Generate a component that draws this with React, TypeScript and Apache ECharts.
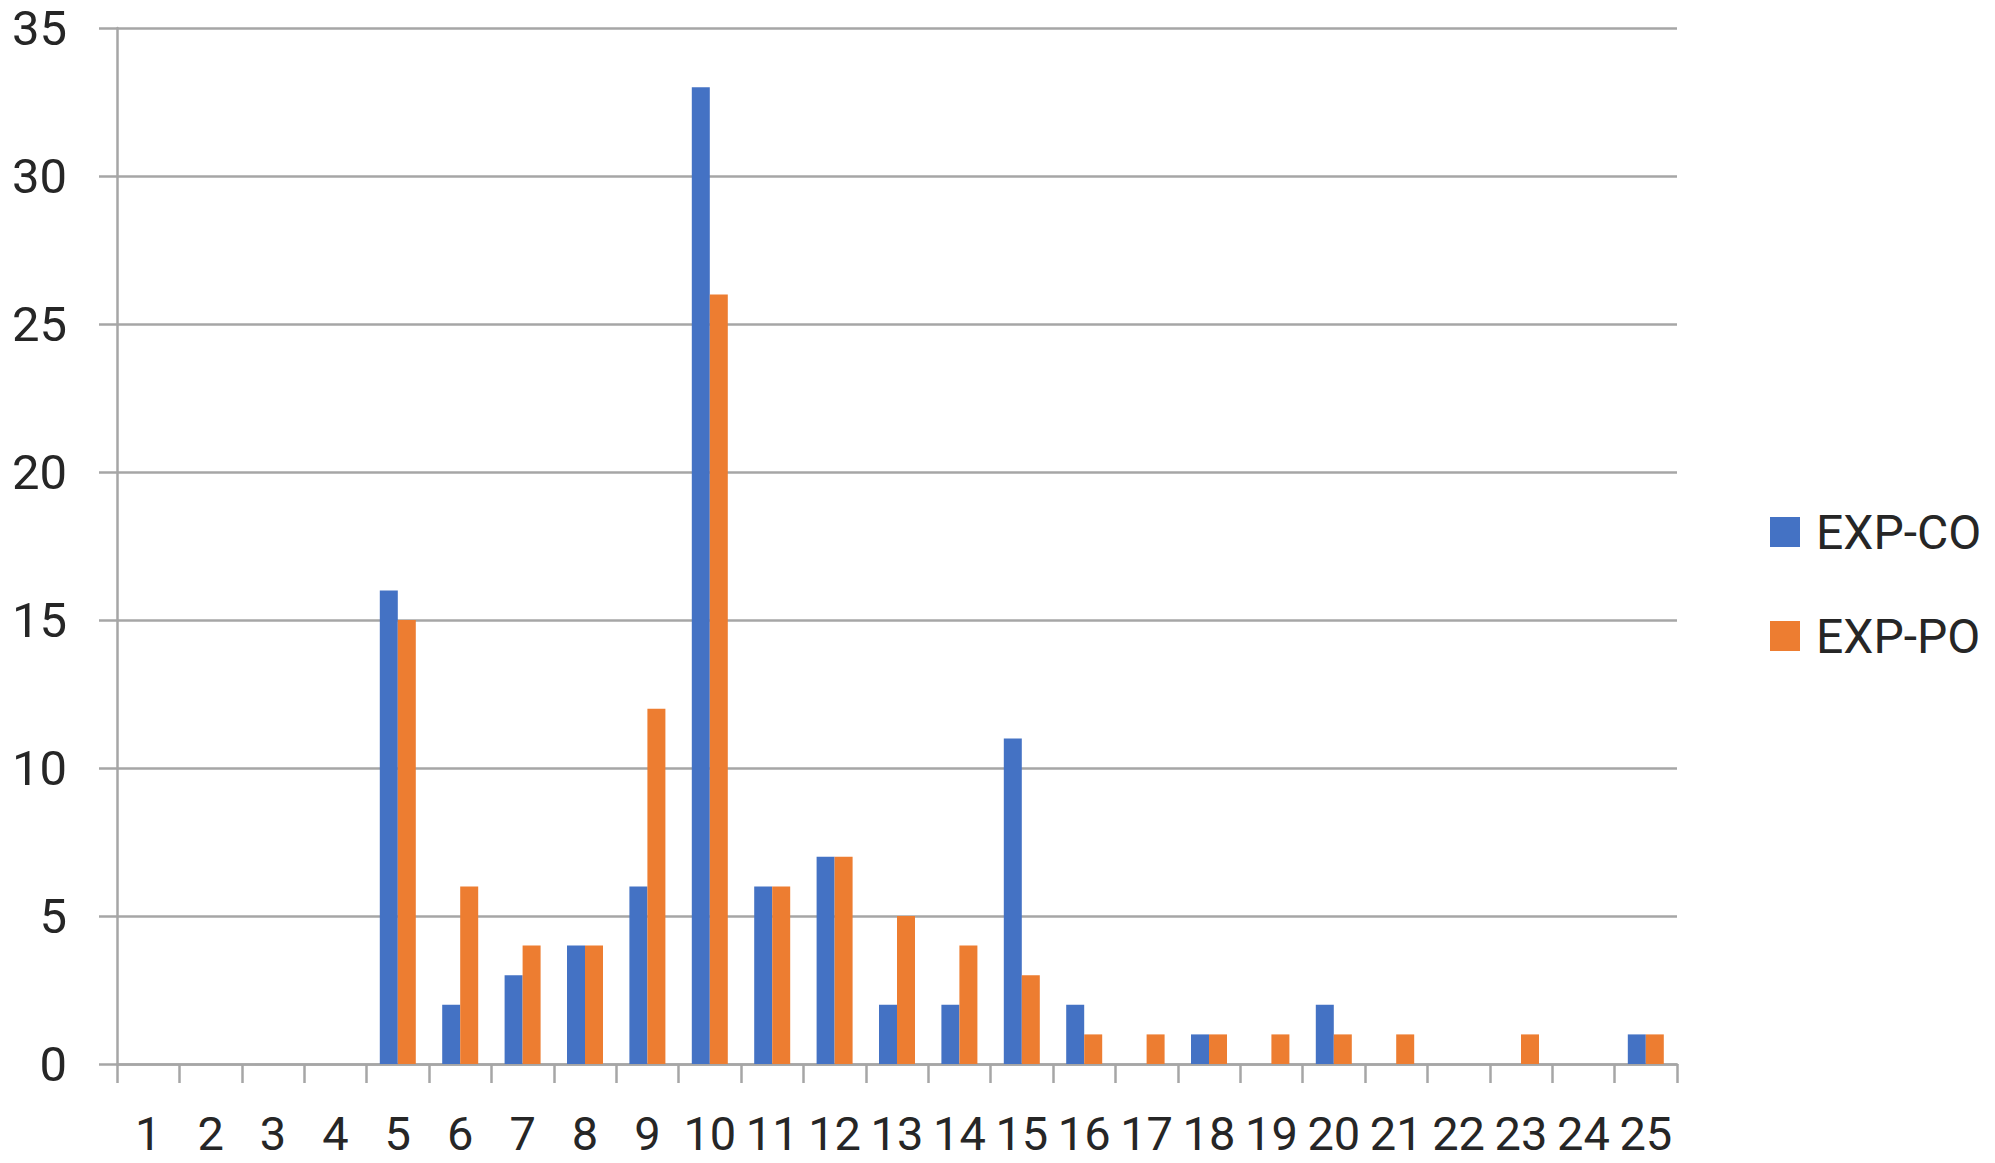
import React, { useEffect, useRef } from "react";
import * as echarts from "echarts";

const categories = ["1","2","3","4","5","6","7","8","9","10","11","12","13","14","15","16","17","18","19","20","21","22","23","24","25"];
const expCO = [0,0,0,0,16,2,3,4,6,33,6,7,2,2,11,2,0,1,0,2,0,0,0,0,1];
const expPO = [0,0,0,0,15,6,4,4,12,26,6,7,5,4,3,1,1,1,1,1,1,0,1,0,1];
const yTicks = { min: 0, max: 35, interval: 5 };

const GRID = "#a6a6a6";
const TEXT = "#262626";
const FONT = "Roboto";

export default function App() {
  const ref = useRef<HTMLDivElement>(null);
  useEffect(() => {
    if (!ref.current) return;
    const chart = echarts.init(ref.current, undefined, { renderer: "svg" });
    chart.setOption({
      animation: false,
      backgroundColor: "#ffffff",
      textStyle: { fontFamily: FONT },
      grid: { left: 117, right: 318, top: 28, bottom: 99, containLabel: false },
      legend: {
        orient: "vertical",
        left: 1765,
        top: 502,
        itemWidth: 30,
        itemHeight: 30,
        itemGap: 54,
        icon: "rect",
        textStyle: { fontSize: 48, color: TEXT, fontFamily: FONT, lineHeight: 50, padding: [0, 0, 0, 11] },
        data: ["EXP-CO", "EXP-PO"],
      },
      xAxis: {
        type: "category",
        data: categories,
        boundaryGap: true,
        axisLine: { show: true, lineStyle: { color: GRID, width: 2.5 } },
        axisTick: { show: true, length: 19, lineStyle: { color: GRID, width: 2.5 } },
        axisLabel: { interval: 0, fontSize: 47, lineHeight: 46, color: TEXT, fontFamily: FONT, margin: 46 },
        splitLine: { show: false },
      },
      yAxis: {
        type: "value",
        min: yTicks.min,
        max: yTicks.max,
        interval: yTicks.interval,
        axisLine: { show: true, lineStyle: { color: GRID, width: 2.5 } },
        axisTick: { show: true, length: 18, lineStyle: { color: GRID, width: 2.5 } },
        axisLabel: { fontSize: 49, lineHeight: 44, color: TEXT, fontFamily: FONT, margin: 50 },
        splitLine: { show: true, lineStyle: { color: GRID, width: 2.5 } },
      },
      series: [
        { name: "EXP-CO", type: "bar", data: expCO, barWidth: 18, barGap: "0%", itemStyle: { color: "#4472c4" } },
        { name: "EXP-PO", type: "bar", data: expPO, barWidth: 18, barGap: "0%", itemStyle: { color: "#ed7d31" } },
      ],
    });
    return () => chart.dispose();
  }, []);
  return (
    <div
      ref={ref}
      style={{ position: "fixed", left: 0, top: 0, width: 1995, height: 1163 }}
    />
  );
}
